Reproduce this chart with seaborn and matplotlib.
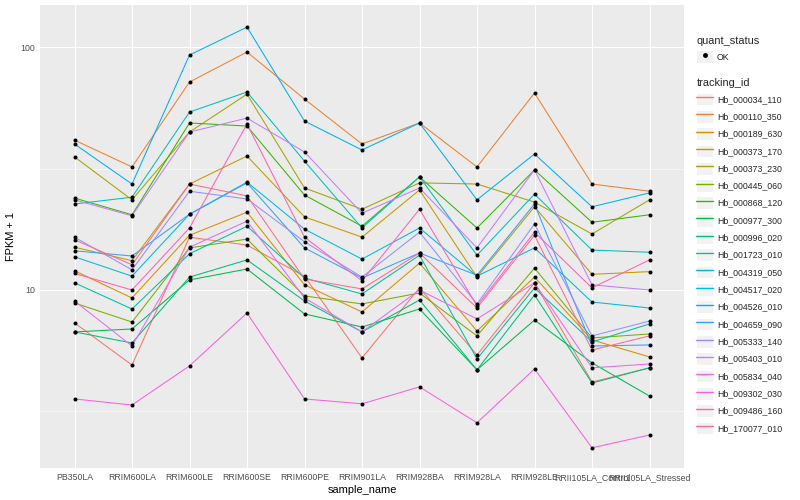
import pandas as pd
import matplotlib
matplotlib.use("Agg")
import matplotlib.pyplot as plt
from matplotlib.lines import Line2D
from matplotlib.patches import Patch
from matplotlib.legend_handler import HandlerTuple
from matplotlib.ticker import FixedLocator, NullFormatter
import seaborn as sns

# samples on the x axis
sample_names = ["PB350LA", "RRIM600LA", "RRIM600LE", "RRIM600SE", "RRIM600PE", "RRIM901LA",
                "RRIM928BA", "RRIM928LA", "RRIM928LE", "RRII105LA_Control", "RRII105LA_Stressed"]

tracking_ids = ["Hb_000034_110", "Hb_000110_350", "Hb_000189_630", "Hb_000373_170", "Hb_000373_230",
                "Hb_000445_060", "Hb_000868_120", "Hb_000977_300", "Hb_000996_020", "Hb_001723_010",
                "Hb_004319_050", "Hb_004517_020", "Hb_004526_010", "Hb_004659_090", "Hb_005333_140",
                "Hb_005403_010", "Hb_005834_040", "Hb_009302_030", "Hb_009486_160", "Hb_170077_010"]

# FPKM + 1 per gene, one value per sample
hb_000034_110 = [7.32, 4.91, 16.5, 15.3, 11.4, 5.25, 10.2, 5.40, 10.7, 4.18, 4.78]
hb_000110_350 = [41.4, 32.1, 71.8, 95.4, 61.1, 39.9, 48.7, 32.1, 64.7, 27.3, 25.5]
hb_000189_630 = [12.0, 9.27, 16.8, 20.9, 10.5, 8.12, 12.9, 6.78, 11.3, 6.23, 5.30]
hb_000373_170 = [15.0, 13.2, 27.3, 35.6, 20.0, 16.5, 25.8, 11.3, 22.0, 11.6, 11.9]
hb_000373_230 = [35.3, 23.5, 44.7, 64.0, 26.3, 21.5, 27.6, 27.3, 23.0, 17.0, 23.5]
hb_000445_060 = [8.84, 7.38, 14.9, 16.2, 9.45, 8.76, 9.72, 6.47, 12.3, 6.35, 6.59]
hb_000868_120 = [23.9, 20.4, 48.7, 47.3, 24.6, 18.3, 29.2, 18.0, 31.2, 19.0, 20.4]
hb_000977_300 = [6.72, 6.91, 11.0, 12.2, 7.97, 7.04, 8.35, 4.69, 7.52, 5.01, 3.66]
hb_000996_020 = [6.72, 6.05, 11.3, 13.3, 9.01, 6.72, 9.09, 4.69, 9.54, 4.14, 4.78]
hb_001723_010 = [10.7, 8.35, 14.1, 18.3, 11.2, 9.63, 13.9, 5.20, 10.2, 6.11, 7.25]
hb_004319_050 = [22.6, 24.1, 54.0, 65.3, 33.9, 18.0, 29.2, 13.9, 24.8, 14.6, 14.3]
hb_004517_020 = [13.7, 11.4, 20.5, 27.8, 17.8, 13.4, 18.0, 11.4, 14.9, 8.92, 8.43]
hb_004526_010 = [39.9, 27.3, 92.7, 120.8, 49.6, 37.7, 48.7, 23.5, 36.3, 22.0, 25.1]
hb_004659_090 = [14.5, 13.8, 20.5, 27.6, 14.9, 11.2, 14.2, 11.5, 22.6, 5.88, 5.94]
hb_005333_140 = [16.5, 12.1, 25.5, 23.7, 15.8, 11.3, 17.3, 8.76, 18.7, 6.47, 7.45]
hb_005403_010 = [23.5, 20.2, 44.7, 51.0, 37.0, 20.7, 26.3, 14.9, 31.2, 10.5, 10.0]
hb_005834_040 = [9.01, 5.88, 15.0, 19.2, 9.27, 6.72, 10.0, 7.60, 10.7, 4.78, 4.96]
hb_009302_030 = [3.56, 3.36, 4.87, 8.04, 3.56, 3.40, 3.99, 2.84, 4.73, 2.24, 2.53]
hb_009486_160 = [11.7, 10.0, 18.0, 48.2, 16.5, 10.9, 21.5, 8.60, 17.3, 10.2, 13.3]
hb_170077_010 = [16.1, 12.7, 27.3, 24.4, 11.1, 10.1, 14.2, 8.43, 16.8, 5.66, 6.47]

fpkm = [hb_000034_110, hb_000110_350, hb_000189_630, hb_000373_170, hb_000373_230,
        hb_000445_060, hb_000868_120, hb_000977_300, hb_000996_020, hb_001723_010,
        hb_004319_050, hb_004517_020, hb_004526_010, hb_004659_090, hb_005333_140,
        hb_005403_010, hb_005834_040, hb_009302_030, hb_009486_160, hb_170077_010]

# ggplot default hue palette for 20 levels
gg_colors = ["#F8766D", "#EA8331", "#D89000", "#C09B00", "#A3A500", "#7CAE00", "#39B600",
             "#00BB4E", "#00BF7D", "#00C1A3", "#00BFC4", "#00BAE0", "#00B0F6", "#35A2FF",
             "#9590FF", "#C77CFF", "#E76BF3", "#FA62DB", "#FF62BC", "#FF6C91"]

rows = []
for tid, vals in zip(tracking_ids, fpkm):
    for s, v in zip(sample_names, vals):
        rows.append({"sample_name": s, "tracking_id": tid, "fpkm1": v, "quant_status": "OK"})
df = pd.DataFrame(rows)

sns.set_theme(style="darkgrid", rc={
    "axes.facecolor": "#EBEBEB",
    "grid.color": "white",
    "axes.edgecolor": "#EBEBEB",
    "axes.linewidth": 0,
})
plt.rcParams["font.family"] = ["Liberation Sans", "DejaVu Sans"]

fig = plt.figure(figsize=(800 / 72, 500 / 72), dpi=72)
ax = fig.add_axes([40 / 800, 1 - 468 / 500, (684 - 40) / 800, (468 - 5) / 500])

palette = dict(zip(tracking_ids, gg_colors))
sns.lineplot(data=df, x="sample_name", y="fpkm1", hue="tracking_id", palette=palette,
             estimator=None, sort=False, linewidth=1.05, legend=False, ax=ax)
sns.scatterplot(data=df, x="sample_name", y="fpkm1", color="black", s=16,
                linewidth=0, legend=False, ax=ax, zorder=5)

ax.set_yscale("log")
ax.set_ylim(1.85, 149)
ax.set_xlim(-0.6, len(sample_names) - 0.4)
ax.yaxis.set_major_locator(FixedLocator([10, 100]))
ax.set_yticklabels(["10", "100"])
ax.yaxis.set_minor_locator(FixedLocator([10 ** 0.5, 10 ** 1.5]))
ax.yaxis.set_minor_formatter(NullFormatter())
ax.grid(True, which="major", color="white", linewidth=1.07)
ax.grid(True, which="minor", axis="y", color="white", linewidth=0.53)
ax.tick_params(axis="both", which="major", length=2.75, width=0.8, color="#333333",
               labelsize=8.8, labelcolor="#4D4D4D", pad=2.2)
ax.tick_params(axis="y", which="minor", length=0)
for sp in ax.spines.values():
    sp.set_visible(False)

ax.set_xlabel("sample_name", fontsize=11, color="black", labelpad=3)
ax.set_ylabel("FPKM + 1", fontsize=11, color="black", labelpad=4)

# legends in ggplot style: grey key squares
key_bg = dict(facecolor="#F2F2F2", edgecolor="white", linewidth=1.0)
status_handles = [(Patch(**key_bg),
                   Line2D([], [], marker="o", color="black", linestyle="", markersize=3.8))]
leg1 = fig.legend(status_handles, ["OK"], title="quant_status", loc="upper left",
                  bbox_to_anchor=(0.8705, 0.928), frameon=False, fontsize=8.8, title_fontsize=11,
                  handler_map={tuple: HandlerTuple(ndivide=1)}, handlelength=1.85,
                  handleheight=1.85, handletextpad=0.5, borderpad=0, borderaxespad=0,
                  alignment="left")

id_handles = [(Patch(**key_bg), Line2D([], [], color=c, linewidth=1.4)) for c in gg_colors]
leg2 = fig.legend(id_handles, tracking_ids, title="tracking_id", loc="upper left",
                  bbox_to_anchor=(0.8705, 0.844), frameon=False, fontsize=8.8, title_fontsize=11,
                  handler_map={tuple: HandlerTuple(ndivide=1)}, handlelength=1.85,
                  handleheight=1.85, handletextpad=0.5, labelspacing=0.52, borderpad=0,
                  borderaxespad=0, alignment="left")

fig.savefig("out.png", dpi=72, facecolor="white")
